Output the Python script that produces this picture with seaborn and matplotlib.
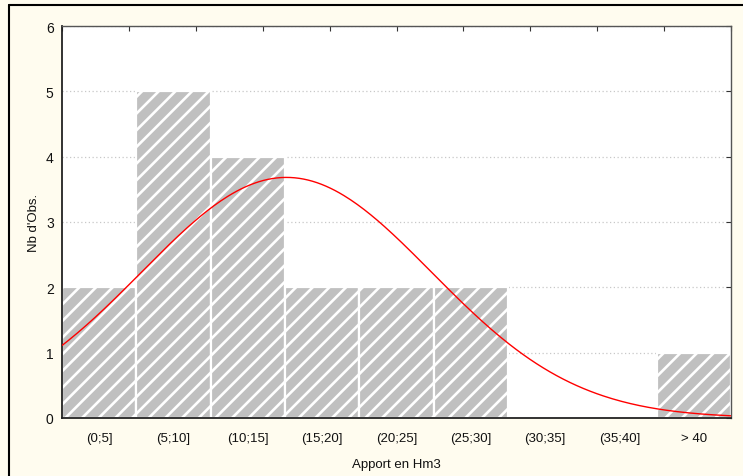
import numpy as np
import pandas as pd
import matplotlib
matplotlib.use("Agg")
import matplotlib.pyplot as plt
from matplotlib.lines import Line2D
import seaborn as sns

# Histogram of annual inflow classes (Hm3)
bin_edges = [0, 5, 10, 15, 20, 25, 30, 35, 40, 45]
class_labels = ["(0;5]", "(5;10]", "(10;15]", "(15;20]", "(20;25]",
                "(25;30]", "(30;35]", "(35;40]", "> 40"]
counts = [2, 5, 4, 2, 2, 2, 0, 0, 1]

# Fitted normal law (mean, std dev, sample size)
fit_mean = 15.1
fit_std = 9.75
n_obs = 18

sns.set_style("white")
plt.rcParams["font.family"] = ["Liberation Sans", "DejaVu Sans"]
plt.rcParams["hatch.linewidth"] = 1.9

bg = "#FFFCEF"
fig = plt.figure(figsize=(7.43, 4.77), dpi=100, facecolor=bg)
ax = fig.add_axes([62 / 743, 1 - 419 / 477, 669 / 743, 392 / 477])
ax.set_facecolor("white")

centers = [(a + b) / 2 for a, b in zip(bin_edges[:-1], bin_edges[1:])]
df = pd.DataFrame({"centre": centers, "n": counts})

ax.yaxis.grid(True, color="#C8C8C8", linestyle=(0, (1, 2)), linewidth=0.9)
ax.set_axisbelow(True)

sns.histplot(data=df, x="centre", weights="n", bins=bin_edges, ax=ax,
             color="#C0C0C0", alpha=1, edgecolor="white", linewidth=1.6,
             hatch="//", zorder=2)

# Normal curve scaled to counts per class
xs = np.linspace(bin_edges[0], bin_edges[-1], 300)
width = bin_edges[1] - bin_edges[0]
ys = n_obs * width * np.exp(-0.5 * ((xs - fit_mean) / fit_std) ** 2) / (fit_std * np.sqrt(2 * np.pi))
sns.lineplot(x=xs, y=ys, ax=ax, color="#FF0000", linewidth=1.0, zorder=3)

ax.set_xlim(bin_edges[0], bin_edges[-1])
ax.set_ylim(0, 6)

ax.set_xticks(centers)
ax.set_xticklabels(class_labels)
ax.set_xticks(np.arange(0, 46, 1), minor=True)
ax.tick_params(axis="x", which="major", length=0, pad=10, labelsize=9.5, colors="#111111")
ax.tick_params(axis="x", which="minor", direction="in", length=3.5, width=0.8,
               color="#333333", top=False)
ax.set_yticks(range(0, 7))
ax.tick_params(axis="y", which="major", direction="in", length=3.5, width=0.8,
               color="#333333", right=True, labelsize=10, pad=6, labelcolor="#111111")

# Unlabelled tick marks along the top edge
top = ax.secondary_xaxis("top")
top.set_xticks(np.linspace(0, 45, 11))
top.tick_params(direction="in", length=3.5, width=0.8, color="#333333", labeltop=False)
top.spines["top"].set_visible(False)

for side in ["left", "bottom"]:
    ax.spines[side].set_color("#222222")
    ax.spines[side].set_linewidth(1.3)
for side in ["top", "right"]:
    ax.spines[side].set_color("#555555")
    ax.spines[side].set_linewidth(1.0)

ax.set_xlabel("Apport en Hm3", fontsize=9.5, labelpad=10, color="#111111")
ax.set_ylabel("Nb d'Obs.", fontsize=9.5, labelpad=4, color="#111111")

# Outer frame lines
fx = 8.5 / 743
fy = 1 - 5.5 / 477
fig.add_artist(Line2D([fx, fx], [0, fy], transform=fig.transFigure, color="black", linewidth=1.5))
fig.add_artist(Line2D([fx, 1], [fy, fy], transform=fig.transFigure, color="black", linewidth=1.5))

fig.savefig("out.png", dpi=100, facecolor=bg)
